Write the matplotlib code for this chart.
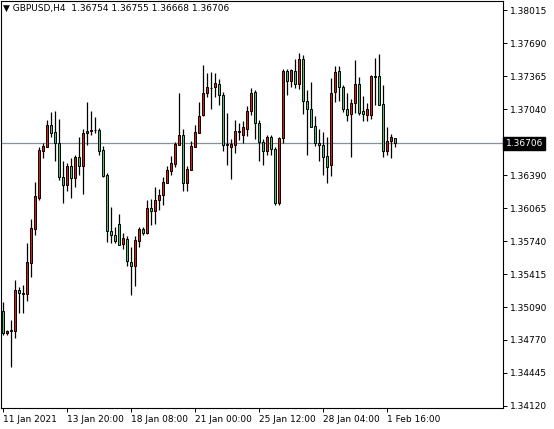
import matplotlib
matplotlib.use("Agg")
import matplotlib.pyplot as plt
import numpy as np

opens = [1.35053, 1.34836, 1.34856, 1.34856, 1.35259, 1.35220, 1.35220, 1.35525, 1.35860, 1.36165,
         1.36627, 1.36667, 1.36883, 1.36814, 1.36706, 1.36371, 1.36293, 1.36480, 1.36362, 1.36568,
         1.36480, 1.36804, 1.36824, 1.36830, 1.36830, 1.36637, 1.36391, 1.35840, 1.35801, 1.35909,
         1.35712, 1.35761, 1.35535, 1.35496, 1.35742, 1.35860, 1.35820, 1.36066, 1.36037, 1.36145,
         1.36194, 1.36312, 1.36430, 1.36499, 1.36686, 1.36785, 1.36312, 1.36440, 1.36667, 1.36804,
         1.36981, 1.37198, 1.37247, 1.37257, 1.37287, 1.37178, 1.36696, 1.36667, 1.36686, 1.36814,
         1.36785, 1.36844, 1.37021, 1.37208, 1.36903, 1.36716, 1.36627, 1.36765, 1.36647, 1.36115,
         1.36755, 1.37414, 1.37316, 1.37414, 1.37287, 1.37532, 1.37119, 1.37040, 1.36873, 1.36706,
         1.36686, 1.36578, 1.36489, 1.37208, 1.37414, 1.37257, 1.37040, 1.36991, 1.37099, 1.37287,
         1.37021, 1.36981, 1.36981, 1.37365, 1.37365, 1.37090, 1.36627, 1.36726, 1.36754]
highs = [1.35141, 1.34866, 1.34964, 1.35358, 1.35289, 1.35309, 1.35722, 1.35958, 1.36322, 1.36667,
         1.36706, 1.36932, 1.37011, 1.37021, 1.36942, 1.36529, 1.36509, 1.36558, 1.36588, 1.36765,
         1.36844, 1.37109, 1.37021, 1.36962, 1.36854, 1.36676, 1.36411, 1.36076, 1.35879, 1.36007,
         1.35820, 1.35791, 1.35683, 1.35791, 1.35879, 1.35879, 1.36145, 1.36155, 1.36273, 1.36253,
         1.36371, 1.36480, 1.36578, 1.36716, 1.37198, 1.36844, 1.36480, 1.36726, 1.36883, 1.37109,
         1.37473, 1.37395, 1.37405, 1.37395, 1.37336, 1.37208, 1.37002, 1.36745, 1.36932, 1.36903,
         1.36922, 1.37070, 1.37247, 1.37227, 1.36932, 1.36745, 1.36785, 1.36785, 1.36667, 1.36765,
         1.37434, 1.37434, 1.37434, 1.37532, 1.37592, 1.37572, 1.37227, 1.37306, 1.36972, 1.36844,
         1.36814, 1.36765, 1.37346, 1.37464, 1.37464, 1.37277, 1.37198, 1.37139, 1.37523, 1.37355,
         1.37168, 1.37099, 1.37375, 1.37542, 1.37582, 1.37277, 1.36863, 1.36794, 1.36755]
lows = [1.34817, 1.34817, 1.34502, 1.34787, 1.35033, 1.35033, 1.35151, 1.35387, 1.35801, 1.36145,
        1.36558, 1.36667, 1.36765, 1.36529, 1.36342, 1.36115, 1.36234, 1.36165, 1.36273, 1.36391,
        1.36204, 1.36686, 1.36785, 1.36804, 1.36588, 1.36371, 1.35732, 1.35722, 1.35722, 1.35702,
        1.35663, 1.35496, 1.35210, 1.35299, 1.35683, 1.35801, 1.35810, 1.35899, 1.35909, 1.36047,
        1.36096, 1.36312, 1.36391, 1.36470, 1.36686, 1.36234, 1.36234, 1.36440, 1.36667, 1.36804,
        1.36972, 1.37159, 1.37040, 1.37159, 1.37081, 1.36627, 1.36489, 1.36352, 1.36607, 1.36735,
        1.36706, 1.36775, 1.36981, 1.36745, 1.36529, 1.36489, 1.36588, 1.36588, 1.36096, 1.36096,
        1.36706, 1.37178, 1.37257, 1.37247, 1.37237, 1.36991, 1.36588, 1.36863, 1.36676, 1.36529,
        1.36391, 1.36312, 1.36381, 1.37109, 1.37119, 1.37011, 1.36922, 1.36568, 1.37001, 1.36981,
        1.36922, 1.36922, 1.36942, 1.37080, 1.37080, 1.36568, 1.36588, 1.36558, 1.36668]
closes = [1.34836, 1.34856, 1.34866, 1.35259, 1.35230, 1.35230, 1.35535, 1.35870, 1.36184, 1.36637,
          1.36676, 1.36883, 1.36804, 1.36706, 1.36371, 1.36293, 1.36480, 1.36362, 1.36568, 1.36480,
          1.36804, 1.36824, 1.36830, 1.36835, 1.36627, 1.36381, 1.35840, 1.35801, 1.35742, 1.35702,
          1.35771, 1.35545, 1.35496, 1.35752, 1.35860, 1.35820, 1.36066, 1.36037, 1.36145, 1.36194,
          1.36322, 1.36440, 1.36509, 1.36696, 1.36785, 1.36312, 1.36450, 1.36676, 1.36814, 1.36972,
          1.37198, 1.37257, 1.37250, 1.37296, 1.37178, 1.36686, 1.36686, 1.36696, 1.36824, 1.36824,
          1.36863, 1.37021, 1.37198, 1.36903, 1.36716, 1.36627, 1.36765, 1.36647, 1.36115, 1.36755,
          1.37414, 1.37316, 1.37424, 1.37287, 1.37532, 1.37119, 1.37040, 1.36863, 1.36706, 1.36686,
          1.36568, 1.36470, 1.37198, 1.37405, 1.37257, 1.37040, 1.36981, 1.37099, 1.37287, 1.37001,
          1.36991, 1.37040, 1.37365, 1.37360, 1.37080, 1.36627, 1.36726, 1.36765, 1.36706]

price_ticks = [1.38015, 1.37690, 1.37365, 1.37040, 1.36390, 1.36065, 1.35740, 1.35415,
               1.35090, 1.34770, 1.34445, 1.34120]
date_pos = [0, 16, 32, 48, 64, 80, 96]
date_labels = ["11 Jan 2021", "13 Jan 20:00", "18 Jan 08:00", "21 Jan 00:00",
               "25 Jan 12:00", "28 Jan 04:00", "1 Feb 16:00"]
last_price = 1.36706
title = "GBPUSD,H4  1.36754 1.36755 1.36668 1.36706"

fig = plt.figure(figsize=(5.54, 4.29), dpi=100)
ax = fig.add_axes([1 / 554, 1 - 408 / 429, 502 / 554, 407 / 429])

x = np.arange(len(opens))
o = np.array(opens)
c = np.array(closes)
up = c >= o
ax.vlines(x, lows, highs, color="black", linewidth=0.9, zorder=2)
bottoms = np.minimum(o, c)
heights = np.maximum(np.abs(c - o), 0.00002)
colors = np.where(up, "#e8141b", "#19d38c")
ax.bar(x, heights, bottom=bottoms, width=0.65, color=colors, edgecolor="black",
       linewidth=0.7, zorder=3)

ax.axhline(last_price, color="#7f93a6", linewidth=0.9, zorder=1)

ax.set_xlim(-0.5, 125)
ax.set_ylim(1.34100, 1.38104)
ax.yaxis.tick_right()
ax.set_yticks(price_ticks)
ax.set_yticklabels([f"{p:.5f}" for p in price_ticks])
ax.set_xticks(date_pos)
ax.set_xticklabels(date_labels, ha="left")
ax.tick_params(axis="both", labelsize=6.5, length=3, width=0.7, pad=2, colors="black")
for spine in ax.spines.values():
    spine.set_linewidth(0.8)

ax.text(1.005, last_price, "1.36706", transform=ax.get_yaxis_transform(),
        fontsize=6.5, color="white", va="center", ha="left",
        bbox=dict(facecolor="black", edgecolor="black", pad=1.5))
ax.text(0.004, 0.993, "\u25bc " + title, transform=ax.transAxes, fontsize=6.5,
        va="top", ha="left")

fig.savefig("out.png", dpi=100)
